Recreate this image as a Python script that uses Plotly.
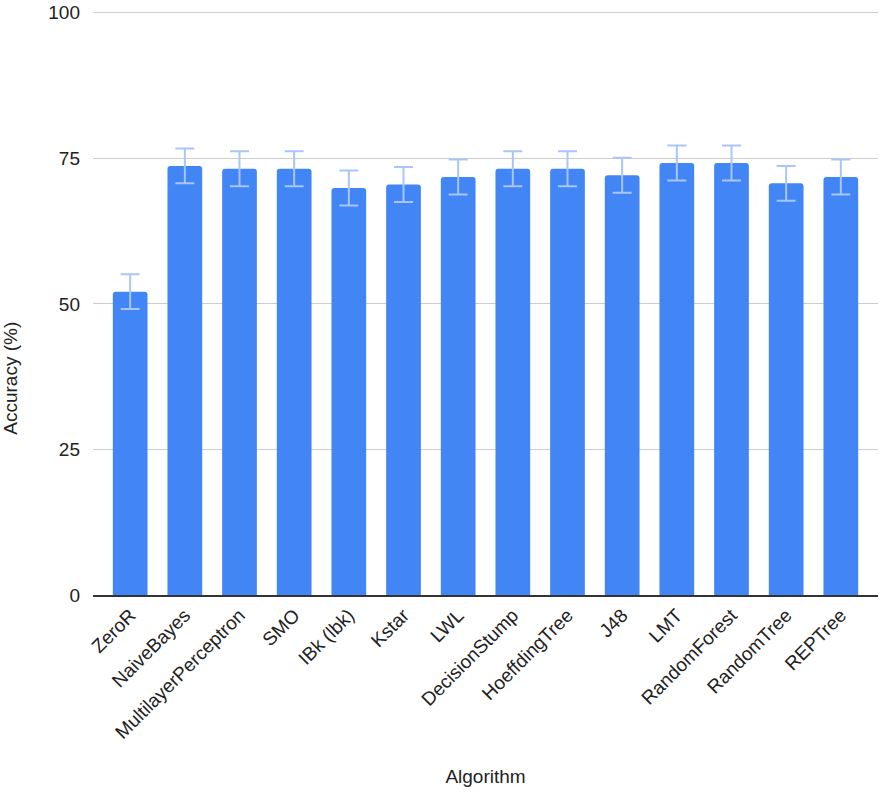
import plotly.graph_objects as go

algorithms = ["ZeroR", "NaiveBayes", "MultilayerPerceptron", "SMO", "IBk (lbk)", "Kstar", "LWL",
              "DecisionStump", "HoeffdingTree", "J48", "LMT", "RandomForest", "RandomTree", "REPTree"]
accuracy = [52.1, 73.7, 73.2, 73.2, 69.9, 70.5, 71.8, 73.2, 73.2, 72.1, 74.2, 74.2, 70.7, 71.8]
error = [3.0, 3.0, 3.0, 3.0, 3.0, 3.0, 3.0, 3.0, 3.0, 3.0, 3.0, 3.0, 3.0, 3.0]

fig = go.Figure()

fig.add_trace(go.Bar(
    x=algorithms,
    y=accuracy,
    marker=dict(color="#4285f4", line=dict(width=0)),
    width=0.635,
    error_y=dict(type="data", array=error, visible=True,
                 color="#a9c5fa", thickness=2, width=9.5),
))

fig.update_layout(
    width=886, height=793,
    margin=dict(l=93, r=8, t=11, b=198),
    plot_bgcolor="white",
    paper_bgcolor="white",
    font=dict(family="Liberation Sans, Arial", size=19, color="#222222"),
    showlegend=False,
    barcornerradius=3,
    xaxis=dict(
        title=dict(text="Algorithm", font=dict(size=19), standoff=28),
        tickangle=-45,
        range=[-0.68, 13.68],
        showgrid=False,
        showline=True, linecolor="#333333", linewidth=1.5,
        ticks="",
        automargin=False,
        tickfont=dict(size=19, color="#222222"),
    ),
    yaxis=dict(
        range=[0, 100.3],
        tickvals=[0, 25, 50, 75, 100],
        gridcolor="#cccccc", gridwidth=1,
        zeroline=False,
        ticks="",
        automargin=False,
        ticklabelstandoff=12,
        tickfont=dict(size=19, color="#222222"),
    ),
)

# y title sits below the plot's middle in the reference
fig.add_annotation(
    text="Accuracy (%)", textangle=-90,
    xref="paper", yref="paper", x=-0.1045, y=0.372,
    xanchor="center", yanchor="middle", showarrow=False,
    font=dict(size=19, color="#222222"),
)

# drop the default body margin so the figure sits at the page corner
fig.write_html("out.html", config={"displayModeBar": False},
               post_script="document.body.style.margin='0';")
